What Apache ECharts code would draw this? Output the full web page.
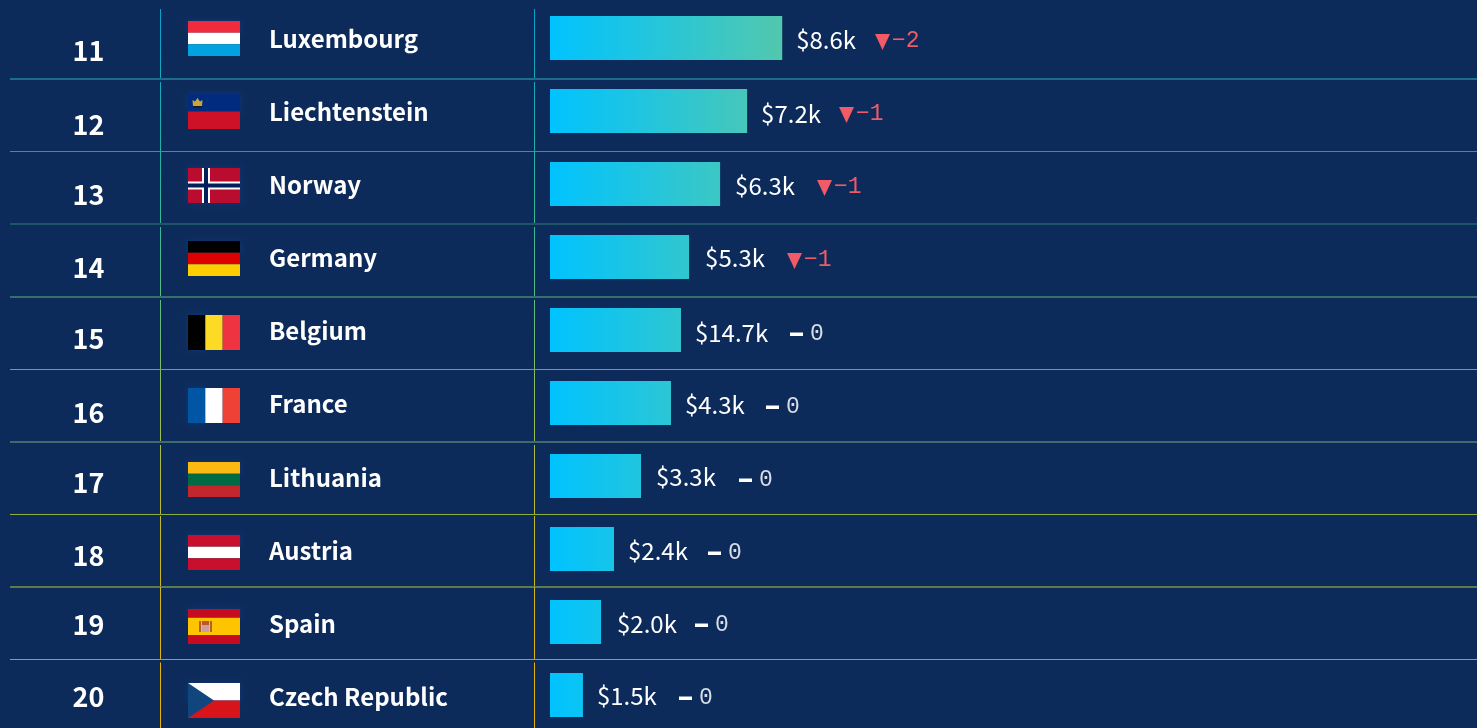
<!DOCTYPE html>
<html><head><meta charset="utf-8">
<style>html,body{margin:0;padding:0;background:#0c2b5b;overflow:hidden}#c{width:1477px;height:728px}</style>
<script src="https://cdn.jsdelivr.net/npm/echarts@6/dist/echarts.min.js"></script>
</head><body><div id="c"></div>
<script>
const ranks=[11,12,13,14,15,16,17,18,19,20];
const countries=['Luxembourg','Liechtenstein','Norway','Germany','Belgium','France','Lithuania','Austria','Spain','Czech Republic'];
const barValues=[8.6,7.3,6.3,5.15,4.85,4.48,3.37,2.37,1.89,1.22];
const valueLabels=['$8.6k','$7.2k','$6.3k','$5.3k','$14.7k','$4.3k','$3.3k','$2.4k','$2.0k','$1.5k'];
const rankChanges=[-2,-1,-1,-1,0,0,0,0,0,0];

// Layout, row by row (the source is caught mid-animation, so rows are slightly offset)
const rankDy=[13,14,11,11,9,10,7,7,3,2];
const flagDy=[-17,-17,-16,-16,-15,-15,-14,-14,-13,-12];
const nameDy=[1,1,1,1,1,1,2,2,2,2];
const valueDx=[0,0,1,2,0,0,1,0,2,0];
const valueDy=[2,3,2,1,3,2,1,2,2,1];
const changeDy=[0,0,0,0,0,0,0,0,-1,-1];
const changeX=[325,289,267,237,240,216,189,158,145,129];
const ruleY=[79,151.5,224,297,369.5,442,514.5,587,659.5];
const ruleH=[2,1,2,2,1,2,1,2,1];
const sepGap=[3,0,3,3,0,3,1.5,0,3];
const ruleColors=['#1a6d8c','#2f95a5','#1c5468','#35706f','#62a585','#3f6a6e','#8fb040','#5f7a4a','#98a050'];
const sepColors=['#0aa0d0','#14a8c0','#22b0a8','#38b898','#58bc84','#80bc68','#a4bc48','#c0ba2c','#d0b81c','#e0b410','#e6b208'];

const BG='#0c2b5b', SANS='"Noto Sans CJK SC","Noto Sans",sans-serif', MONO='"Liberation Mono","DejaVu Sans Mono",monospace';
const FX=188,FW=52,FH=35;
const hStripes=(cols,w)=>{const t=w||cols.map(()=>1/cols.length);let y=0;return cols.map((c,i)=>{const r={type:'rect',shape:{x:FX,y:y*FH,width:FW,height:t[i]*FH},style:{fill:c}};y+=t[i];return r;});};
const vStripes=cols=>cols.map((c,i)=>({type:'rect',shape:{x:FX+i*FW/cols.length,y:0,width:FW/cols.length,height:FH},style:{fill:c}}));
const rect=(x,y,w,h,c)=>({type:'rect',shape:{x:FX+x,y,width:w,height:h},style:{fill:c}});
const flags={
 Luxembourg:()=>hStripes(['#ef2b3d','#ffffff','#00a3e0']),
 Liechtenstein:()=>[...hStripes(['#002b7f','#ce1126']),
   {type:'polygon',shape:{points:[[FX+4.5,6],[FX+7,7.5],[FX+9.5,4],[FX+12,7.5],[FX+14.5,6],[FX+14,12],[FX+5,12]]},style:{fill:'#c9a63a'}},rect(5,12,9,1.5,'#1a1a1a')],
 Norway:()=>[rect(0,0,FW,FH,'#ba0c2f'),rect(14,0,8,FH,'#ffffff'),rect(0,13.5,FW,8,'#ffffff'),rect(16,0,4,FH,'#00205b'),rect(0,15.5,FW,4,'#00205b')],
 Germany:()=>hStripes(['#000000','#dd0000','#ffce00']),
 Belgium:()=>vStripes(['#000000','#fdda24','#ef3340']),
 France:()=>vStripes(['#0055a4','#ffffff','#ef4135']),
 Lithuania:()=>hStripes(['#fdb913','#006a44','#c1272d']),
 Austria:()=>hStripes(['#c8102e','#ffffff','#c8102e']),
 Spain:()=>[...hStripes(['#c60b1e','#ffc400','#c60b1e'],[.25,.5,.25]),rect(11,12,2,11,'#b5602a'),rect(22,12,2,11,'#b5602a'),rect(14,12,7,4,'#c0542a'),rect(14,16,7,7,'#c9a0a0')],
 'Czech Republic':()=>[...hStripes(['#ffffff','#d7141a']),{type:'polygon',shape:{points:[[FX,0],[FX+26,FH/2],[FX,FH]]},style:{fill:'#11457e'}}]
};
const lerp=(t)=>{const a=[0,195,255],b=[82,200,174];return 'rgb('+a.map((v,i)=>Math.round(v+(b[i]-v)*t)).join(',')+')';};

function rowItem(params,api){
  const i=api.value(1), cy=api.coord([0,i])[1], kids=[];
  // vertical separators
  const y1=i===0?9:ruleY[i-1]+sepGap[i-1], y2=i<9?ruleY[i]:728;
  [160.5,534.5].forEach(x=>kids.push({type:'rect',shape:{x:x-0.5,y:y1,width:1,height:y2-y1},
     style:{fill:{type:'linear',x:0,y:0,x2:0,y2:1,colorStops:[{offset:0,color:sepColors[i]},{offset:1,color:sepColors[i+1]}]}}}));
  // horizontal rule
  if(i<9) kids.push({type:'rect',shape:{x:10,y:ruleY[i]-ruleH[i]/2,width:1467,height:ruleH[i]},style:{fill:ruleColors[i]}});
  // rank
  kids.push({type:'text',style:{text:String(ranks[i]),x:88.5,y:cy+rankDy[i],fill:'#fff',font:'700 27px '+SANS,align:'center',verticalAlign:'middle'}});
  // flag
  kids.push({type:'group',x:0,y:cy+flagDy[i],children:flags[countries[i]]().map((k,n)=>{
     if(n===0){k.style.shadowBlur=5;k.style.shadowColor='rgba(20,80,170,.35)';}
     return k;})});
  // name
  kids.push({type:'text',style:{text:countries[i],x:269,y:cy+nameDy[i],fill:'#fff',font:'700 24px '+SANS,align:'left',verticalAlign:'middle'}});
  // rank change
  const x=550+changeX[i];
  if(rankChanges[i]<0){
    const ty=cy+2;
    kids.push({type:'polygon',shape:{points:[[x,ty-6],[x+15,ty-6],[x+7.5,ty+10]]},style:{fill:'#ef5b67'}});
    kids.push({type:'text',style:{text:String(rankChanges[i]).replace('-','\u2212'),x:x+17,y:ty+1,fill:'#ef5b67',font:'400 23px '+MONO,align:'left',verticalAlign:'middle'}});
  } else {
    const ty=cy+4+changeDy[i];
    kids.push({type:'rect',shape:{x:x,y:ty-1.5,width:13,height:3.5},style:{fill:'#fff'}});
    kids.push({type:'text',style:{text:String(rankChanges[i]),x:x+20,y:ty,fill:'#d8dde6',font:'400 23px '+MONO,align:'left',verticalAlign:'middle'}});
  }
  return {type:'group',children:kids};
}

const chart=echarts.init(document.getElementById('c'),null,{renderer:'canvas'});
chart.setOption({
  backgroundColor:BG,animation:false,
  grid:{left:550,width:927,top:1.5,height:730,outerBoundsMode:'none'},
  xAxis:{type:'value',min:0,max:34.33,show:false},
  yAxis:{type:'category',inverse:true,data:countries,show:false},
  series:[
   {type:'bar',barWidth:44,z:3,
    data:barValues.map((v,i)=>({value:v,
      label:{offset:[valueDx[i],valueDy[i]]},
      itemStyle:{color:{type:'linear',x:0,y:0,x2:1,y2:0,colorStops:[{offset:0,color:lerp(0)},{offset:1,color:lerp(v/8.6)}]}}})),
    label:{show:true,position:'right',distance:14,color:'#fff',fontFamily:SANS,fontSize:24,fontWeight:400,
      formatter:p=>valueLabels[p.dataIndex]}},
   {type:'custom',renderItem:rowItem,z:2,encode:{x:0,y:1},data:ranks.map((r,i)=>[0,i]),clip:false,silent:true}
  ]
});
</script></body></html>
